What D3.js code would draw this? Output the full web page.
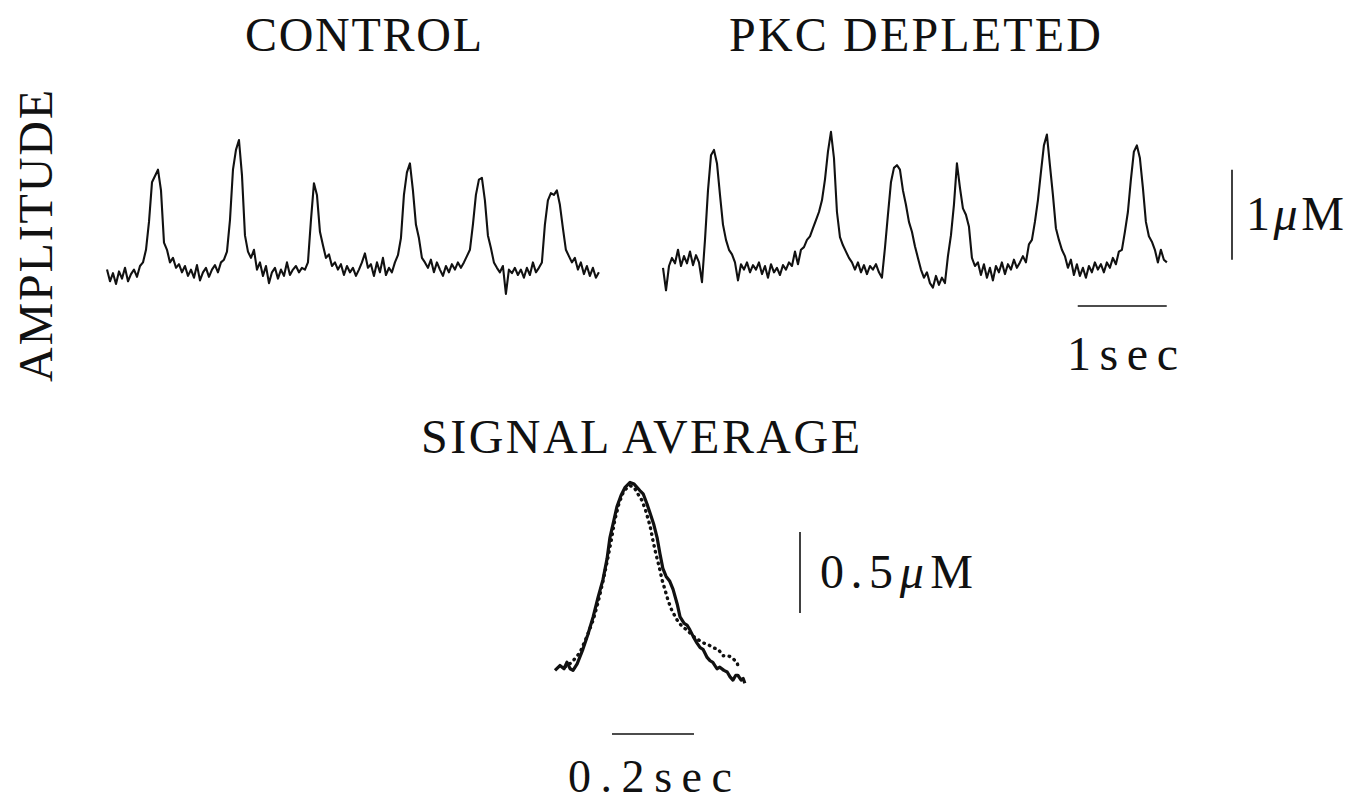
<!DOCTYPE html>
<html>
<head>
<meta charset="utf-8">
<script src="https://cdn.jsdelivr.net/npm/d3@7"></script>
<style>
  html, body { margin: 0; padding: 0; background: #fff; }
  svg { display: block; }
  text { font-family: "Liberation Serif", Tinos, "DejaVu Serif", serif; fill: #111; }
</style>
</head>
<body>
<svg id="chart" width="1351" height="801"></svg>
<script>
// ---------------- DATA ----------------
const panelTitles = ["CONTROL", "PKC DEPLETED"];
const averageTitle = "SIGNAL AVERAGE";
const yAxisLabel = "AMPLITUDE";

// Sampling interval of the raw traces (seconds)
const sampleInterval = 0.0337;

// Control trace, [Ca2+] above baseline (μM), evenly sampled
const controlTrace = [
  0.06,-0.07,0.02,-0.10,0.04,-0.04,0.08,-0.07,0.01,0.06,-0.02,0.10,0.14,0.28,0.59,1.03,1.10,1.17,0.94,0.36,
  0.28,0.14,0.19,0.08,0.12,0.03,0.10,-0.01,0.06,-0.03,0.11,-0.06,0.03,0.08,-0.02,0.06,0.11,0.03,0.14,0.17,
  0.26,0.61,1.17,1.39,1.50,1.11,0.44,0.26,0.19,0.28,0.06,0.14,-0.01,0.10,-0.09,0.03,0.08,-0.04,0.06,-0.01,
  0.14,0.00,0.06,0.10,0.03,0.08,0.06,0.14,0.61,1.02,0.89,0.48,0.33,0.19,0.23,0.10,0.14,0.06,0.12,0.00,
  0.10,0.03,0.08,-0.01,0.06,0.14,0.24,0.08,0.12,-0.01,0.14,0.03,0.19,0.00,0.08,0.03,0.14,0.22,0.41,0.89,
  1.14,1.24,0.94,0.56,0.41,0.19,0.14,0.08,0.17,0.03,0.14,0.06,-0.01,0.10,0.03,0.12,0.06,0.14,0.08,0.14,
  0.21,0.28,0.56,0.89,1.06,1.08,0.83,0.44,0.30,0.14,0.08,0.03,0.10,-0.21,0.06,0.02,0.08,0.00,0.06,-0.03,
  0.08,0.00,0.14,0.03,0.08,0.14,0.56,0.83,0.91,0.89,0.94,0.78,0.52,0.28,0.21,0.14,0.19,0.06,0.14,0.01,
  0.10,-0.01,0.08,-0.03,0.03
];

// PKC-depleted trace, [Ca2+] above baseline (μM), evenly sampled
const pkcTrace = [
  0.08,-0.17,0.10,0.19,0.13,0.28,0.10,0.21,0.13,0.26,0.11,0.22,0.14,-0.08,0.39,0.94,1.33,1.39,1.24,0.89,
  0.56,0.39,0.28,0.23,0.14,-0.06,0.12,0.06,0.14,0.03,0.11,0.06,0.14,0.01,0.10,-0.03,0.12,0.03,0.08,0.00,
  0.11,0.06,0.14,0.10,0.26,0.12,0.28,0.31,0.39,0.43,0.52,0.61,0.70,0.83,1.06,1.37,1.59,1.30,0.70,0.42,
  0.33,0.26,0.19,0.14,0.06,0.14,0.03,0.11,0.01,0.10,0.06,0.12,0.03,-0.03,0.30,0.67,1.03,1.19,1.22,1.17,
  0.94,0.78,0.59,0.48,0.32,0.19,0.06,-0.03,0.03,-0.09,-0.14,-0.01,-0.11,-0.03,-0.09,0.21,0.44,0.78,1.24,0.97,
  0.74,0.67,0.54,0.19,0.10,0.14,0.00,0.12,-0.03,0.08,-0.06,0.10,0.03,0.14,0.01,0.12,0.06,0.17,0.08,0.14,
  0.21,0.14,0.34,0.39,0.59,0.83,1.14,1.44,1.56,1.22,0.89,0.52,0.39,0.28,0.21,0.08,0.17,0.00,0.12,-0.01,
  0.08,-0.03,0.10,0.03,0.14,0.06,0.12,0.03,0.14,0.08,0.19,0.12,0.26,0.28,0.48,0.70,1.06,1.37,1.44,1.30,
  0.97,0.59,0.43,0.37,0.28,0.14,0.28,0.17,0.14
];

// Signal average, control (solid): time (s) and amplitude (μM)
const avgControlTime = [
  0.000,0.012,0.022,0.029,0.037,0.044,0.054,0.068,0.080,0.093,0.105,0.117,0.127,0.134,0.144,0.151,0.161,0.171,0.183,0.193,
  0.200,0.207,0.215,0.224,0.232,0.241,0.249,0.256,0.263,0.271,0.280,0.288,0.298,0.305,0.315,0.322,0.329,0.337,0.346,0.354,
  0.361,0.371,0.378,0.385,0.395,0.402,0.412,0.420,0.427,0.434,0.441,0.446,0.454,0.459,0.463
];
const avgControlValue = [
  0.01,0.04,0.02,0.06,0.02,0.01,0.05,0.14,0.23,0.34,0.46,0.57,0.70,0.83,0.94,1.02,1.09,1.14,1.17,1.16,
  1.14,1.12,1.10,1.04,0.98,0.91,0.83,0.73,0.64,0.59,0.56,0.51,0.42,0.34,0.30,0.29,0.26,0.22,0.18,0.15,
  0.14,0.09,0.07,0.06,0.02,0.03,0.01,0.00,-0.03,-0.05,-0.02,-0.02,-0.05,-0.04,-0.07
];

// Signal average, PKC depleted (dotted): time (s) and amplitude (μM)
const avgPkcTime = [
  0.024,0.041,0.061,0.078,0.093,0.105,0.117,0.127,0.137,0.146,0.156,0.168,0.183,0.193,0.202,0.212,0.222,0.232,0.239,0.246,
  0.254,0.261,0.268,0.276,0.285,0.298,0.310,0.322,0.337,0.349,0.361,0.373,0.385,0.398,0.410,0.422,0.432,0.439,0.444,0.446
];
const avgPkcValue = [
  0.03,0.06,0.12,0.22,0.32,0.43,0.56,0.68,0.81,0.94,1.04,1.12,1.15,1.14,1.10,1.06,0.99,0.90,0.81,0.73,
  0.65,0.57,0.51,0.44,0.38,0.32,0.28,0.26,0.22,0.20,0.18,0.17,0.15,0.14,0.10,0.10,0.09,0.07,0.06,0.04
];

// Scale bars
const traceAmpBar = { value: 1, label: ["1", "μ", "M"] };
const traceTimeBar = { value: 1, label: "1sec" };
const avgAmpBar = { value: 0.5, label: ["0.5", "μ", "M"] };
const avgTimeBar = { value: 0.2, label: "0.2sec" };

// ---------------- DRAWING ----------------
const svg = d3.select("#chart");
const fs = 48;

const pxPerSec = 89;
const xCtrl = d3.scaleLinear().domain([0, 1]).range([107, 107 + pxPerSec]);
const xPkc = d3.scaleLinear().domain([0, 1]).range([663, 663 + pxPerSec]);
const yTrace = d3.scaleLinear().domain([0, 1]).range([275, 185]);

const xAvg = d3.scaleLinear().domain([0, 0.2]).range([555, 637]);
const yAvg = d3.scaleLinear().domain([0, 0.5]).range([672, 591]);

const traceLine = (xs) => d3.line()
  .x((d, i) => xs(i * sampleInterval))
  .y(d => yTrace(d));

svg.append("path").datum(controlTrace)
  .attr("d", traceLine(xCtrl))
  .attr("fill", "none").attr("stroke", "#111").attr("stroke-width", 2.1)
  .attr("stroke-linejoin", "round");

svg.append("path").datum(pkcTrace)
  .attr("d", traceLine(xPkc))
  .attr("fill", "none").attr("stroke", "#111").attr("stroke-width", 2.1)
  .attr("stroke-linejoin", "round");

const avgLine = d3.line().x(d => xAvg(d[0])).y(d => yAvg(d[1]));

svg.append("path")
  .datum(avgPkcTime.map((t, i) => [t, avgPkcValue[i]]))
  .attr("d", avgLine)
  .attr("fill", "none").attr("stroke", "#111").attr("stroke-width", 3.4)
  .attr("stroke-dasharray", "0.5 5.5").attr("stroke-linecap", "round");

svg.append("path")
  .datum(avgControlTime.map((t, i) => [t, avgControlValue[i]]))
  .attr("d", avgLine)
  .attr("fill", "none").attr("stroke", "#111").attr("stroke-width", 3.2)
  .attr("stroke-linejoin", "round");

// Scale bars
const bar = (x1, y1, x2, y2) => svg.append("line")
  .attr("x1", x1).attr("y1", y1).attr("x2", x2).attr("y2", y2)
  .attr("stroke", "#111").attr("stroke-width", 1.6);

const ampBarBase = 0.17;
bar(1232, yTrace(ampBarBase), 1232, yTrace(ampBarBase + traceAmpBar.value));
const timeBarStart = 4.66;
bar(xPkc(timeBarStart), 306, xPkc(timeBarStart + traceTimeBar.value), 306);

const avgAmpBase = 0.364;
bar(800, yAvg(avgAmpBase), 800, yAvg(avgAmpBase + avgAmpBar.value));
const avgTimeStart = 0.139;
bar(xAvg(avgTimeStart), 734, xAvg(avgTimeStart + avgTimeBar.value), 734);

// Text
function label(str, x, y, len, opts = {}) {
  const t = svg.append("text")
    .attr("x", x).attr("y", y)
    .attr("font-family", "'Liberation Serif', Tinos, 'DejaVu Serif', serif")
    .attr("font-size", opts.size || fs)
    .attr("textLength", len).attr("lengthAdjust", "spacing");
  if (opts.rotate) t.attr("transform", `rotate(${opts.rotate},${x},${y})`);
  if (Array.isArray(str)) {
    t.append("tspan").text(str[0]);
    t.append("tspan").attr("font-style", "italic").text(str[1]);
    t.append("tspan").text(str[2]);
  } else {
    t.text(str);
  }
  return t;
}

label(panelTitles[0], 245, 51, 237);
label(panelTitles[1], 729, 51, 372);
label(yAxisLabel, 52, 382, 292, { rotate: -90 });
label(traceAmpBar.label, 1246, 230, 98);
label(traceTimeBar.label, 1067, 370, 111);
label(averageTitle, 421, 453, 439);
label(avgAmpBar.label, 820, 588, 153);
label(avgTimeBar.label, 568, 792, 164, { size: 46 });
</script>
</body>
</html>
